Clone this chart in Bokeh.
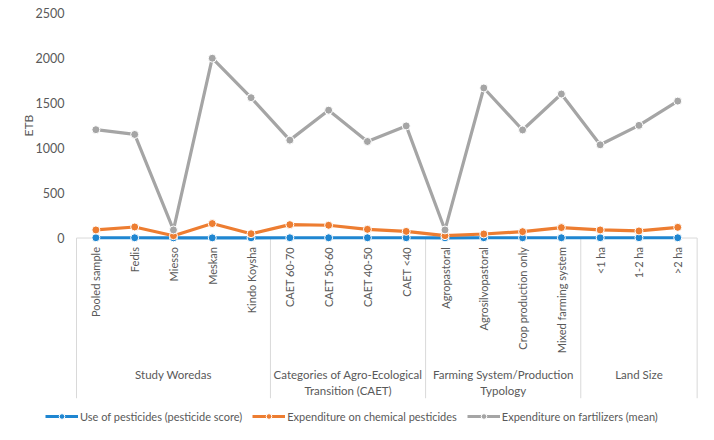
import math
from bokeh.plotting import figure
from bokeh.models import (Range1d, ColumnDataSource, Legend, LegendItem)
from bokeh.core.properties import value
from bokeh.embed import file_html
from bokeh.resources import INLINE

# ---- data ----
categories = ["Pooled sample", "Fedis", "Miesso", "Meskan", "Kindo Koysha",
              "CAET 60-70", "CAET 50-60", "CAET 40-50", "CAET <40",
              "Agropastoral", "Agrosilvopastoral", "Crop production only", "Mixed farming system",
              "<1 ha", "1-2 ha", ">2 ha"]
groups = ["Study Woredas", "Categories of Agro-Ecological\nTransition (CAET)",
          "Farming System/Production\nTypology", "Land Size"]
group_sizes = [5, 4, 4, 3]
pesticide_score = [3, 3, 2, 2, 2, 3, 3, 3, 3, 2, 3, 3, 3, 3, 3, 3]
chem_pesticides = [90, 123, 26, 161, 48, 149, 142, 97, 74, 26, 45, 71, 116, 90, 79, 119]
fertilizers = [1205, 1152, 90, 2000, 1561, 1089, 1422, 1074, 1247, 90, 1669, 1202, 1602, 1037, 1253, 1523]
series_names = ["Use of pesticides (pesticide score)",
                "Expenditure on chemical pesticides",
                "Expenditure on fartilizers (mean)"]
y_ticks = [0, 500, 1000, 1500, 2000, 2500]
y_title = "ETB"

FONT = "Lato"
TXT = "#595959"
AXIS = "#d9d9d9"
colors = ["#1f86d1", "#ed7d31", "#a5a5a5"]

n = len(categories)
p = figure(width=698, height=424, output_backend="svg", toolbar_location=None,
           x_range=Range1d(-2.459, 15.535),
           y_range=Range1d(-2074, 2642),
           min_border_left=0, min_border_right=0, min_border_top=0, min_border_bottom=0)
p.axis.visible = False
p.grid.visible = False
p.outline_line_color = None
p.background_fill_color = "white"
p.border_fill_color = "white"

# y tick labels
p.text(x=[-0.5] * len(y_ticks), y=y_ticks, text=[str(t) for t in y_ticks],
       x_offset=-12, text_align="right", text_baseline="middle",
       text_font=value(FONT), text_font_size="12.5px", text_color=TXT)
# y-axis title
p.text(x=[-0.5], y=[(y_ticks[0] + y_ticks[-1]) / 2], text=[y_title], angle=math.pi / 2,
       x_offset=-48, text_align="center", text_baseline="middle",
       text_font=value(FONT), text_font_size="12px", text_color=TXT)

# category axis line
p.segment(x0=[-0.5], x1=[n - 0.5], y0=[0], y1=[0], line_color=AXIS, line_width=1)

# group separators
bounds = [-0.5]
for s in group_sizes:
    bounds.append(bounds[-1] + s)
p.segment(x0=bounds, x1=bounds, y0=[0] * len(bounds), y1=[-1782] * len(bounds),
          line_color=AXIS, line_width=1)

xs = list(range(n))
# category labels (rotated)
p.text(x=xs, y=[0] * n, text=categories, angle=math.pi / 2,
       text_align="right", text_baseline="middle", y_offset=9,
       text_font=value(FONT), text_font_size="11px", text_color=TXT)

# group labels
centers = [(bounds[i] + bounds[i + 1]) / 2 for i in range(len(groups))]
p.text(x=centers, y=[0] * len(centers), text=groups, text_align="center",
       text_baseline="top", y_offset=130, text_line_height=1.2,
       text_font=value(FONT), text_font_size="11.5px", text_color=TXT)

# series
items = []
for vals, c, name in zip([pesticide_score, chem_pesticides, fertilizers], colors, series_names):
    src = ColumnDataSource(dict(x=xs, y=vals))
    r1 = p.line("x", "y", source=src, line_color=c, line_width=3.2)
    r2 = p.scatter("x", "y", source=src, size=8, fill_color=c, line_color="white", line_width=1)
    items.append(LegendItem(label=name, renderers=[r1, r2]))

legend = Legend(items=items, orientation="horizontal", location=(45, 1),
                border_line_color=None, background_fill_alpha=0,
                label_text_font=FONT, label_text_font_size="11px", label_text_color=TXT,
                glyph_width=33, glyph_height=14, label_standoff=2, spacing=10,
                padding=0, margin=0, label_height=14)
p.add_layout(legend)

open("out.html", "w").write(file_html(p, INLINE))
